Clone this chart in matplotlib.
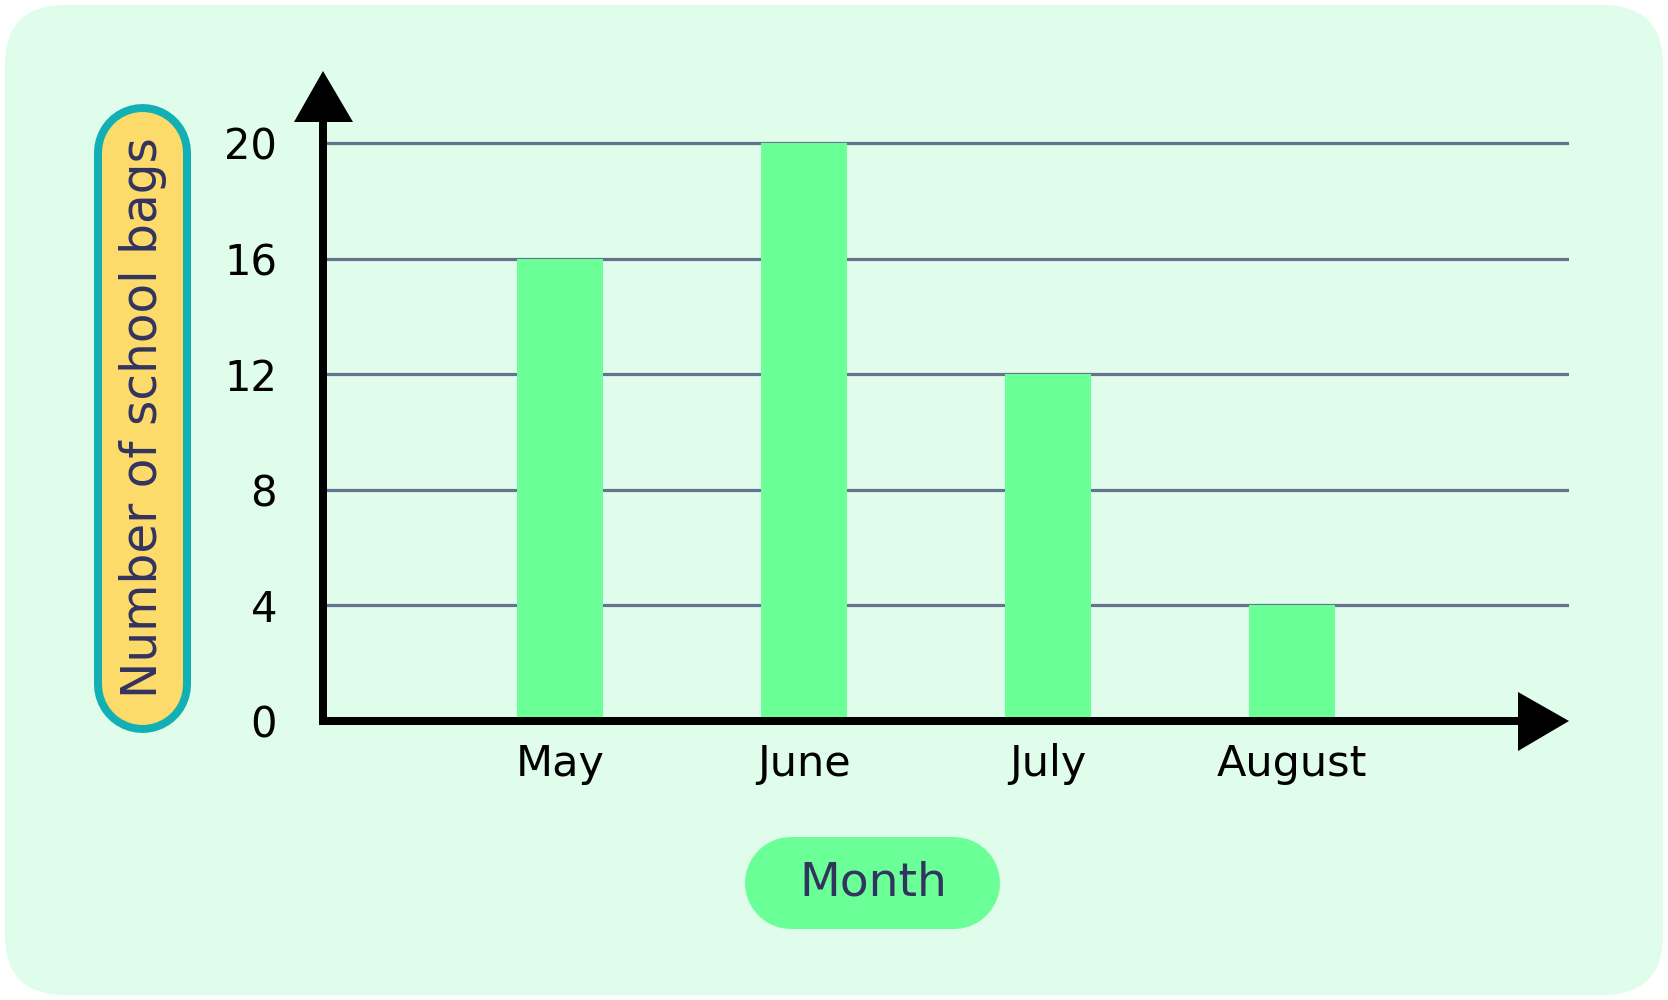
import matplotlib.pyplot as plt
from matplotlib.patches import FancyBboxPatch, Polygon

plt.rcParams['font.family'] = ['DejaVu Sans']

# data
months = ["May", "June", "July", "August"]
bags = [16, 20, 12, 4]
yticks = [0, 4, 8, 12, 16, 20]

W, H = 1668, 1000
bar_color = "#6bff98"
bg_color = "#dffdea"
navy = "#33335f"
PT = 0.72  # points per pixel at dpi 100

# plot area in pixels
left_px, right_px = 323, 1569
zero_px, top_px, twenty_px = 721, 71, 143

fig = plt.figure(figsize=(W / 100, H / 100), dpi=100)
fig.patch.set_facecolor("white")

# background layer (pixel coords)
bg = fig.add_axes([0, 0, 1, 1], zorder=0)
bg.set_xlim(0, W)
bg.set_ylim(H, 0)
bg.axis("off")
bg.add_patch(FancyBboxPatch((5, 5), W - 10, H - 10,
                            boxstyle="round,pad=0,rounding_size=60",
                            fc=bg_color, ec="none"))

# y label pill (thick round-capped lines)
bg.plot([142.5, 142.5], [151.5, 683.5], color="#12b0b4", lw=97 * PT,
        solid_capstyle="round")
bg.plot([142.5, 142.5], [151.5, 683.5], color="#fcdb6b", lw=81 * PT,
        solid_capstyle="round")
bg.text(143, 418, "Number of school bags", rotation=90, ha="center",
        va="center", fontsize=35, color=navy)

# x label pill
bg.plot([791, 954], [883, 883], color=bar_color, lw=92 * PT,
        solid_capstyle="round")
bg.text(873, 883, "Month", ha="center", va="center", fontsize=34, color=navy)

# data axes
ax = fig.add_axes([left_px / W, 1 - zero_px / H, (right_px - left_px) / W,
                   (zero_px - top_px) / H], zorder=1)
ax.patch.set_alpha(0)
ax.set_ylim(0, 20 * (zero_px - top_px) / (zero_px - twenty_px))
ax.set_xlim(-0.971, 4.135)
for t in yticks[1:]:
    ax.axhline(t, color="#66718d", lw=2.3, zorder=1)
ax.bar(range(len(months)), bags, width=0.35, color=bar_color, zorder=2)
for s in ax.spines.values():
    s.set_visible(False)
ax.set_yticks(yticks)
ax.set_yticklabels([str(t) for t in yticks], fontsize=30)
ax.set_xticks(range(len(months)))
ax.set_xticklabels(months, fontsize=31)
ax.tick_params(axis="y", length=0, pad=33)
ax.tick_params(axis="x", length=0, pad=16)

# axis arrows on top
ov = fig.add_axes([0, 0, 1, 1], zorder=2)
ov.set_xlim(0, W)
ov.set_ylim(H, 0)
ov.axis("off")
ov.plot([left_px, left_px], [zero_px + 4, 120], color="black", lw=8 * PT,
        solid_capstyle="butt")
ov.plot([left_px - 4, 1520], [zero_px, zero_px], color="black", lw=8 * PT,
        solid_capstyle="butt")
ov.add_patch(Polygon([[294, 122], [353, 122], [left_px, top_px]], fc="black"))
ov.add_patch(Polygon([[1518, 692], [1518, 751], [1569, zero_px]], fc="black"))

fig.savefig("out.png", dpi=100)
